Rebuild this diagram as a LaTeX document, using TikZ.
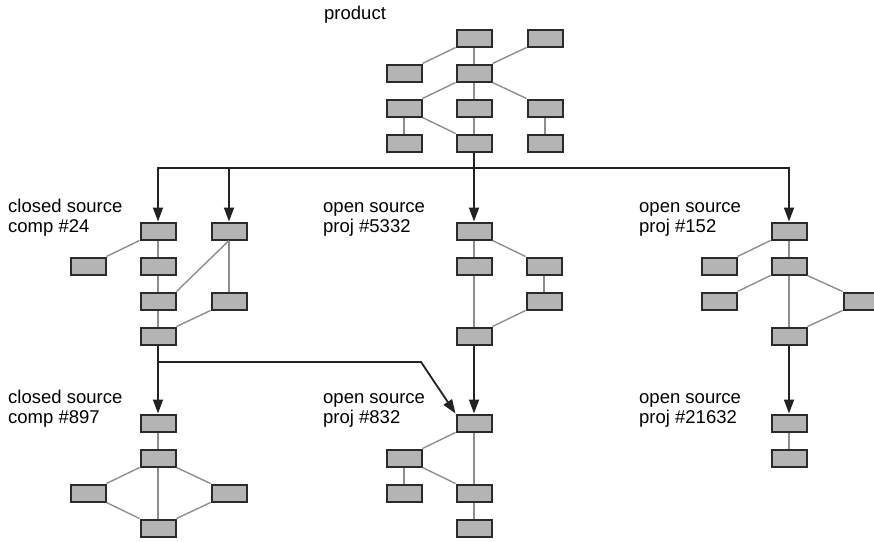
\documentclass[tikz,border=0pt]{standalone}
\usepackage{fontspec}
\setmainfont{Liberation Sans}
\usepackage{tikz}
\usetikzlibrary{positioning}
\usetikzlibrary{arrows.meta}
\usepackage{xcolor}
\definecolor{boxgray}{HTML}{B4B4B4}
\definecolor{edgegray}{HTML}{2B2B2B}
\definecolor{linkgray}{HTML}{8E8E8E}
\definecolor{flowblack}{HTML}{222222}

\begin{document}
\begin{tikzpicture}[x=1pt,y=-1pt,
  part/.style={draw=edgegray, fill=boxgray, line width=2pt, minimum width=35pt, minimum height=17pt, inner sep=0pt},
  link/.style={linkgray, line width=1.4pt},
  flow/.style={flowblack, line width=1.8pt, -{Triangle[length=14pt,width=10pt]}},
  bus/.style={flowblack, line width=1.8pt},
  lbl/.style={anchor=base west, align=left, inner sep=0pt, font=\fontsize{18.5}{20}\selectfont}]

\useasboundingbox (0,0) rectangle (874,541);

% product
\node[lbl] (prodlbl) at (324,19) {product};
\node[part] (pa) at (474,38) {};
\node[part] (pb) at (545,38) {};
\node[part] (pc) at (404,73) {};
\node[part] (pd) at (474,73) {};
\node[part] (pe) at (404,108) {};
\node[part] (pf) at (474,108) {};
\node[part] (pg) at (545,108) {};
\node[part] (ph) at (404,143) {};
\node[part] (pi) at (474,143) {};
\node[part] (pj) at (545,143) {};

\draw[link] (pa.south west) -- (pc.north east);
\draw[link] (pa) -- (pd);
\draw[link] (pb.south west) -- (pd.north east);
\draw[link] (pd.south west) -- (pe.north east);
\draw[link] (pd) -- (pf);
\draw[link] (pd.south east) -- (pg.north west);
\draw[link] (pe) -- (ph);
\draw[link] (pe.south east) -- (pi.north west);
\draw[link] (pf) -- (pi);
\draw[link] (pg) -- (pj);

% closed source comp #24
\node[lbl] (lalbl) at (8,232) {closed source\\comp \#24};
\node[part] (la) at (158,231) {};
\node[part] (lb) at (229,231) {};
\node[part] (lc) at (88,266) {};
\node[part] (ld) at (158,266) {};
\node[part] (le) at (158,301) {};
\node[part] (lf) at (229,301) {};
\node[part] (lg) at (158,336) {};

\draw[link] (la.south west) -- (lc.north east);
\draw[link] (la) -- (ld);
\draw[link] (ld) -- (le);
\draw[link] (le) -- (lg);
\draw[link] (lb.south) -- (le.north east);
\draw[link] (lb) -- (lf);
\draw[link] (lf.south west) -- (lg.north east);

% open source proj #5332
\node[lbl] (malbl) at (323,232) {open source\\proj \#5332};
\node[part] (ma) at (474,231) {};
\node[part] (mb) at (474,266) {};
\node[part] (mc) at (544,266) {};
\node[part] (md) at (544,301) {};
\node[part] (me) at (474,336) {};

\draw[link] (ma) -- (mb);
\draw[link] (ma.south east) -- (mc.north west);
\draw[link] (mc) -- (md);
\draw[link] (mb) -- (me);
\draw[link] (md.south west) -- (me.north east);

% open source proj #152
\node[lbl] (ralbl) at (639,232) {open source\\proj \#152};
\node[part] (ra) at (789,231) {};
\node[part] (rb) at (719,266) {};
\node[part] (rc) at (789,266) {};
\node[part] (rd) at (719,301) {};
\node[part] (re) at (861,301) {};
\node[part] (rf) at (789,336) {};

\draw[link] (ra.south west) -- (rb.north east);
\draw[link] (ra) -- (rc);
\draw[link] (rc.south west) -- (rd.north east);
\draw[link] (rc.south east) -- (re.north west);
\draw[link] (rc) -- (rf);
\draw[link] (re.south west) -- (rf.north east);

% closed source comp #897
\node[lbl] (balbl) at (8,423) {closed source\\comp \#897};
\node[part] (ba) at (158,423) {};
\node[part] (bb) at (158,458) {};
\node[part] (bc) at (88,493) {};
\node[part] (bd) at (229,493) {};
\node[part] (be) at (158,528) {};

\draw[link] (ba) -- (bb);
\draw[link] (bb.south west) -- (bc.north east);
\draw[link] (bb.south east) -- (bd.north west);
\draw[link] (bb) -- (be);
\draw[link] (bc.south east) -- (be.north west);
\draw[link] (bd.south west) -- (be.north east);

% open source proj #832
\node[lbl] (calbl) at (323,423) {open source\\proj \#832};
\node[part] (ca) at (474,423) {};
\node[part] (cb) at (404,458) {};
\node[part] (cc) at (404,493) {};
\node[part] (cd) at (474,493) {};
\node[part] (ce) at (474,528) {};

\draw[link] (ca.south west) -- (cb.north east);
\draw[link] (ca) -- (cd);
\draw[link] (cb) -- (cc);
\draw[link] (cb.south east) -- (cd.north west);
\draw[link] (cd) -- (ce);

% open source proj #21632
\node[lbl] (dalbl) at (639,423) {open source\\proj \#21632};
\node[part] (da) at (789,423) {};
\node[part] (db) at (789,458) {};

\draw[link] (da) -- (db);

% dependencies
\coordinate (busline) at (0,168);
\coordinate (split) at (0,362);
\coordinate (bend) at (421,362);

\draw[bus] (pi) -- (pi |- busline);
\draw[flow] (ra |- busline) -- (la |- busline) -- (la);
\draw[flow] (la |- busline) -- (ra |- busline) -- (ra);
\draw[flow] (lb |- busline) -- (lb);
\draw[flow] (ma |- busline) -- (ma);

\draw[flow] (lg) -- (ba);
\draw[flow] (lg |- split) -- (bend) -- (ca.north west);
\draw[flow] (me) -- (ca);
\draw[flow] (rf) -- (da);

\end{tikzpicture}
\end{document}
